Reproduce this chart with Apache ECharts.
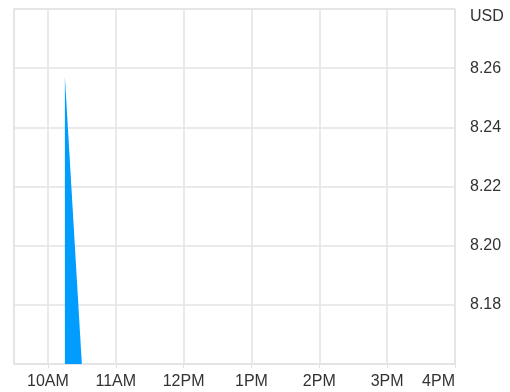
<!DOCTYPE html>
<html>
<head>
<meta charset="utf-8">
<script src="https://cdn.jsdelivr.net/npm/echarts@6/dist/echarts.min.js"></script>
<style>
  html, body { margin: 0; padding: 0; background: #fff; }
  #chart { width: 510px; height: 392px; }
</style>
</head>
<body>
<div id="chart"></div>
<script>
// price points (hour, minute, USD)
var times = [[10, 15], [10, 30]];
var prices = [8.257, 8.16];
var yTicks = { min: 8.16, max: 8.28, step: 0.02 };
var unitLabel = 'USD';

function t(h, m) {
  return new Date(2024, 0, 2, h, m).getTime();
}

var seriesData = [];
for (var i = 0; i < times.length; i++) {
  seriesData.push([t(times[i][0], times[i][1]), prices[i]]);
}

var chart = echarts.init(document.getElementById('chart'));
chart.setOption({
  animation: false,
  grid: {
    left: 14, right: 55, top: 9, bottom: 28,
    show: true,
    borderColor: '#e3e3e3',
    borderWidth: 1.5
  },
  xAxis: {
    type: 'time',
    min: t(9, 30),
    max: t(16, 0),
    minInterval: 3600 * 1000,
    maxInterval: 3600 * 1000,
    axisLine: { show: true, lineStyle: { color: '#e3e3e3', width: 1.5 } },
    axisTick: { show: true, length: 4, lineStyle: { color: '#e3e3e3' } },
    splitLine: { show: true, lineStyle: { color: '#e3e3e3', width: 1.5 } },
    axisLabel: {
      color: '#333',
      fontFamily: 'Liberation Sans',
      fontSize: 16,
      margin: 10,
      showMaxLabel: true,
      alignMaxLabel: 'right',
      hideOverlap: false,
      formatter: function (v) {
        var d = new Date(v);
        if (d.getMinutes() !== 0) return '';
        var h = d.getHours();
        var suffix = h >= 12 ? 'PM' : 'AM';
        var hh = h % 12 === 0 ? 12 : h % 12;
        return hh + suffix;
      }
    }
  },
  yAxis: {
    type: 'value',
    position: 'right',
    min: yTicks.min,
    max: yTicks.max,
    interval: yTicks.step,
    axisLine: { show: false },
    axisTick: { show: false },
    splitLine: { show: true, lineStyle: { color: '#e3e3e3', width: 1.5 } },
    axisLabel: {
      color: '#333',
      fontFamily: 'Liberation Sans',
      fontSize: 16,
      margin: 15,
      showMaxLabel: true,
      formatter: function (v) {
        if (v >= yTicks.max - 0.001) return '{u|' + unitLabel + '}';
        if (v <= yTicks.min + 0.001) return '';
        return v.toFixed(2);
      },
      rich: {
        u: {
          color: '#333',
          fontFamily: 'Liberation Sans',
          fontSize: 16,
          padding: [15, 0, 0, 0]
        }
      }
    }
  },
  series: [{
    type: 'line',
    data: seriesData,
    showSymbol: false,
    lineStyle: { width: 0 },
    areaStyle: { color: '#009dff', opacity: 1, origin: 'start' }
  }]
});
</script>
</body>
</html>
